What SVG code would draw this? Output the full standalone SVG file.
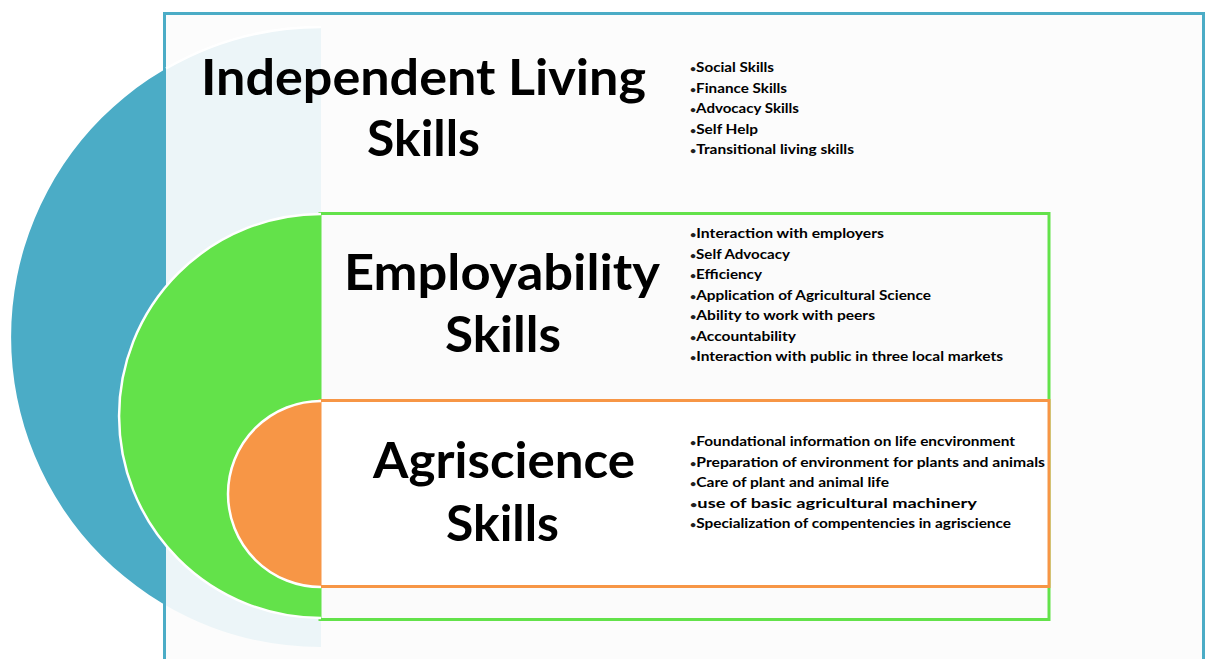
<svg xmlns="http://www.w3.org/2000/svg" width="1206" height="659" viewBox="0 0 1206 659">
<style>
.title{font-family:Lato,"Liberation Sans",sans-serif;font-weight:bold;font-size:49px;fill:#000}
.item{font-family:Lato,"Liberation Sans",sans-serif;font-weight:bold;font-size:13px;fill:#000}
.b{font-size:9px;fill:#222}
.outline{fill:none;stroke:#ffffff;stroke-width:2.5}
</style>
<rect x="0" y="0" width="1206" height="659" fill="#ffffff"/>
<g id="node-independent">
<path d="M 321 27 A 310 310 0 0 0 321 647 Z" fill="#4bacc6"/>
<rect x="164.5" y="13.5" width="1039" height="700" fill="#fcfcfc" stroke="#4bacc6" stroke-width="3"/>
<path d="M 166 68.5 A 310 310 0 0 1 321 27 L 321 647 A 310 310 0 0 1 166 605.5 Z" fill="#ecf5f8"/>
<path class="outline" d="M 166 68.5 A 310 310 0 0 1 321 27" stroke-width="1.5"/>
<text class="title" x="201" y="95" textLength="445" lengthAdjust="spacingAndGlyphs">Independent Living</text>
<text class="title" x="367" y="156" textLength="113" lengthAdjust="spacingAndGlyphs">Skills</text>
<text class="item" x="690" y="72" textLength="84" lengthAdjust="spacingAndGlyphs"><tspan class="b">•</tspan>Social Skills</text>
<text class="item" x="690" y="92.5" textLength="97" lengthAdjust="spacingAndGlyphs"><tspan class="b">•</tspan>Finance Skills</text>
<text class="item" x="690" y="113" textLength="109" lengthAdjust="spacingAndGlyphs"><tspan class="b">•</tspan>Advocacy Skills</text>
<text class="item" x="690" y="133.5" textLength="68" lengthAdjust="spacingAndGlyphs"><tspan class="b">•</tspan>Self Help</text>
<text class="item" x="690" y="154" textLength="164" lengthAdjust="spacingAndGlyphs"><tspan class="b">•</tspan>Transitional living skills</text>
</g>
<g id="node-employability">
<rect x="320" y="213.5" width="729" height="406" fill="#fbfbfb" stroke="#63e24a" stroke-width="3"/>
<path d="M 321 214 A 202 202 0 0 0 321 618 Z" fill="#63e24a"/>
<path class="outline" d="M 321 214 A 202 202 0 0 0 321 618"/>
<text class="title" x="344" y="290" textLength="316" lengthAdjust="spacingAndGlyphs">Employability</text>
<text class="title" x="445" y="352" textLength="116" lengthAdjust="spacingAndGlyphs">Skills</text>
<text class="item" x="690" y="238" textLength="194" lengthAdjust="spacingAndGlyphs"><tspan class="b">•</tspan>Interaction with employers</text>
<text class="item" x="690" y="258.5" textLength="100" lengthAdjust="spacingAndGlyphs"><tspan class="b">•</tspan>Self Advocacy</text>
<text class="item" x="690" y="279" textLength="72" lengthAdjust="spacingAndGlyphs"><tspan class="b">•</tspan>Efficiency</text>
<text class="item" x="690" y="299.5" textLength="241" lengthAdjust="spacingAndGlyphs"><tspan class="b">•</tspan>Application of Agricultural Science</text>
<text class="item" x="690" y="320" textLength="185" lengthAdjust="spacingAndGlyphs"><tspan class="b">•</tspan>Ability to work with peers</text>
<text class="item" x="690" y="340.5" textLength="106" lengthAdjust="spacingAndGlyphs"><tspan class="b">•</tspan>Accountability</text>
<text class="item" x="690" y="361" textLength="313" lengthAdjust="spacingAndGlyphs"><tspan class="b">•</tspan>Interaction with public in three local markets</text>
</g>
<g id="node-agriscience">
<rect x="320" y="400.5" width="729" height="186" fill="#ffffff" stroke="#f79646" stroke-width="3"/>
<path d="M 321 401 A 93 93 0 0 0 321 587 Z" fill="#f79646"/>
<path class="outline" d="M 321 401 A 93 93 0 0 0 321 587"/>
<text class="title" x="373" y="478" textLength="262" lengthAdjust="spacingAndGlyphs">Agriscience</text>
<text class="title" x="446" y="541" textLength="113" lengthAdjust="spacingAndGlyphs">Skills</text>
<text class="item" x="690" y="446" textLength="325" lengthAdjust="spacingAndGlyphs"><tspan class="b">•</tspan>Foundational information on life encvironment</text>
<text class="item" x="690" y="466.5" textLength="355" lengthAdjust="spacingAndGlyphs"><tspan class="b">•</tspan>Preparation of environment  for plants and animals</text>
<text class="item" x="690" y="487" textLength="199" lengthAdjust="spacingAndGlyphs"><tspan class="b">•</tspan>Care of plant and animal life</text>
<text class="item" x="690" y="507.5" textLength="287" lengthAdjust="spacingAndGlyphs"><tspan class="b">•</tspan>use of basic agricultural machinery</text>
<text class="item" x="690" y="528" textLength="321" lengthAdjust="spacingAndGlyphs"><tspan class="b">•</tspan>Specialization of compentencies in agriscience</text>
</g>
<g id="connectors"/>
</svg>
